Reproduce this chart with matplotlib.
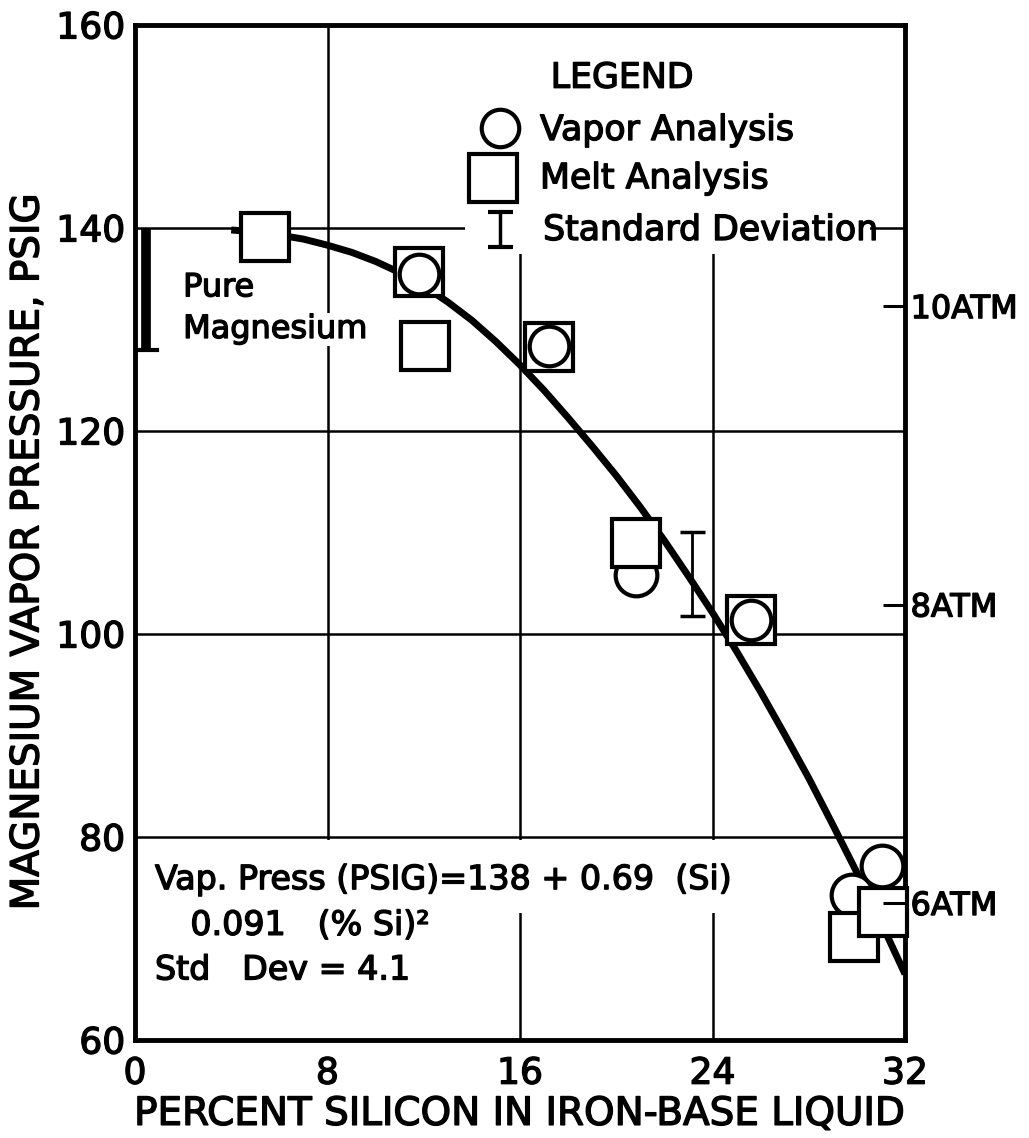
import numpy as np
import matplotlib.pyplot as plt
import matplotlib.patheffects as pe
from matplotlib.patches import Rectangle
from matplotlib.text import Text

plt.rcParams['font.family'] = ['DejaVu Sans']

# melt analysis (squares)
melt_si = [5.4, 11.8, 12.05, 17.2, 20.8, 25.6, 29.9, 31.1]
melt_psig = [139.1, 135.7, 128.4, 128.3, 109.0, 101.4, 70.1, 72.6]

# vapor analysis (circles)
vapor_si = [11.8, 17.2, 20.8, 25.6, 29.8, 31.05]
vapor_psig = [135.5, 128.4, 105.8, 101.4, 74.3, 77.1]

# fitted curve
curve_si = [4, 5, 6, 7, 8, 9, 10, 11, 12, 13, 14, 15, 16, 17, 18,
            19, 20, 21, 22, 23, 24, 25, 26, 27, 28, 29, 30, 31, 32]
curve_psig = [139.8, 139.6, 139.3, 138.9, 138.3, 137.6, 136.7, 135.6, 134.3,
              132.7, 130.9, 128.8, 126.5, 124.0, 121.3, 118.5, 115.6, 112.5,
              109.2, 105.7, 102.1, 98.3, 94.3, 90.1, 85.8, 81.2, 76.5, 71.6, 66.5]

# standard deviation bar
sd_si = 23.15
sd_psig = 105.9
sd_err = 4.1

# pure magnesium range
pure_si = 0.45
pure_lo, pure_hi = 128, 140

atm_psig = [132.3, 102.9, 73.5]
atm_labels = ['10ATM', '8ATM', '6ATM']

xticks = [0, 8, 16, 24, 32]
yticks = [60, 80, 100, 120, 140, 160]


fig = plt.figure(figsize=(10.29, 11.38), dpi=100)
ax = fig.add_axes([0.1312, 0.0861, 0.7483, 0.892])
ax.set_xlim(0, 32)
ax.set_ylim(60, 160)
ax.set_xticks(xticks)
ax.set_yticks(yticks)
ax.grid(color='black', lw=1.8)
ax.set_axisbelow(True)
ax.tick_params(axis='both', length=0, labelsize=26)
ax.tick_params(axis='x', pad=12)
ax.tick_params(axis='y', pad=7)
for s in ax.spines.values():
    s.set_linewidth(3.5)

# blank out grid behind legend and equation
ax.add_patch(Rectangle((13.7, 137.4), 16.85, 22.6, fc='white', ec='none', zorder=1))
ax.add_patch(Rectangle((0, 60), 15.85, 19.75, fc='white', ec='none', zorder=1))
ax.add_patch(Rectangle((15, 72.5), 10, 7.25, fc='white', ec='none', zorder=1))

# curve
ax.plot(curve_si, curve_psig, color='black', lw=5, zorder=2.8,
        solid_capstyle='butt', solid_joinstyle='round')

# markers: circles that sit on a square are drawn over it
melt_si_a = np.array(melt_si)
melt_ps_a = np.array(melt_psig)
on_top = []
for x, y in zip(vapor_si, vapor_psig):
    d = np.min(np.hypot(melt_si_a - x, (melt_ps_a - y) / 4))
    on_top.append(d < 0.5)
on_top = np.array(on_top)
vx = np.array(vapor_si)
vy = np.array(vapor_psig)
ax.plot(vx[~on_top], vy[~on_top], 'o', ms=30, mfc='white', mec='black', mew=3,
        zorder=3, clip_on=False)
ax.plot(melt_si, melt_psig, 's', ms=34, mfc='white', mec='black', mew=3,
        zorder=4, clip_on=False)
ax.plot(vx[on_top], vy[on_top], 'o', ms=28.5, mfc='white', mec='black', mew=3,
        zorder=5, clip_on=False)

# standard deviation
ax.errorbar(sd_si, sd_psig, yerr=sd_err, fmt='none', ecolor='black', elinewidth=2,
            capsize=9, capthick=2.5, zorder=3)

# pure magnesium bar
ax.plot([pure_si, pure_si], [pure_lo, pure_hi], color='black', lw=7, zorder=3,
        solid_capstyle='butt')
ax.plot([0, 0.9], [pure_lo, pure_lo], color='black', lw=3, zorder=3)
ax.text(2.0, 134.1, 'Pure', fontsize=23, va='center', zorder=3)
ax.text(2.0, 130.0, 'Magnesium', fontsize=23, va='center', zorder=3,
        bbox=dict(fc='white', ec='none', pad=1))

# legend drawn by hand
ax.text(20.24, 154.8, 'LEGEND', fontsize=25, ha='center', va='center')
ax.plot(15.17, 149.85, 'o', ms=27, mfc='white', mec='black', mew=3)
ax.plot(14.88, 144.9, 's', ms=34, mfc='white', mec='black', mew=3)
ax.errorbar(15.17, 139.85, yerr=1.75, fmt='none', ecolor='black', elinewidth=2.5,
            capsize=9, capthick=3)
ax.text(16.83, 149.65, 'Vapor Analysis', fontsize=25, va='center')
ax.text(16.83, 144.9, 'Melt Analysis', fontsize=25, va='center')
ax.text(16.96, 139.8, 'Standard Deviation', fontsize=25, va='center')

# equation
ax.text(0.83, 75.8, 'Vap. Press (PSIG)=138 + 0.69  (Si)', fontsize=24, va='center')
ax.text(2.3, 71.3, '0.091   (% Si)\u00b2', fontsize=24, va='center')
ax.text(0.83, 66.9, 'Std   Dev = 4.1', fontsize=24, va='center')

ax.set_xlabel('PERCENT SILICON IN IRON-BASE LIQUID', fontsize=28, labelpad=3)
ax.set_ylabel('MAGNESIUM VAPOR PRESSURE, PSIG', fontsize=28)
ax.yaxis.set_label_coords(-0.115, 0.481)

# atmospheres on right side
ax2 = ax.twinx()
ax2.set_ylim(60, 160)
ax2.set_yticks(atm_psig, atm_labels)
ax2.tick_params(axis='y', direction='in', length=16, width=2.2, labelsize=23, pad=4)
for s in ax2.spines.values():
    s.set_visible(False)

# heavier lettering like the original
for t in fig.findobj(Text):
    t.set_path_effects([pe.withStroke(linewidth=1.0, foreground='black')])

fig.savefig('out.png', dpi=100)
